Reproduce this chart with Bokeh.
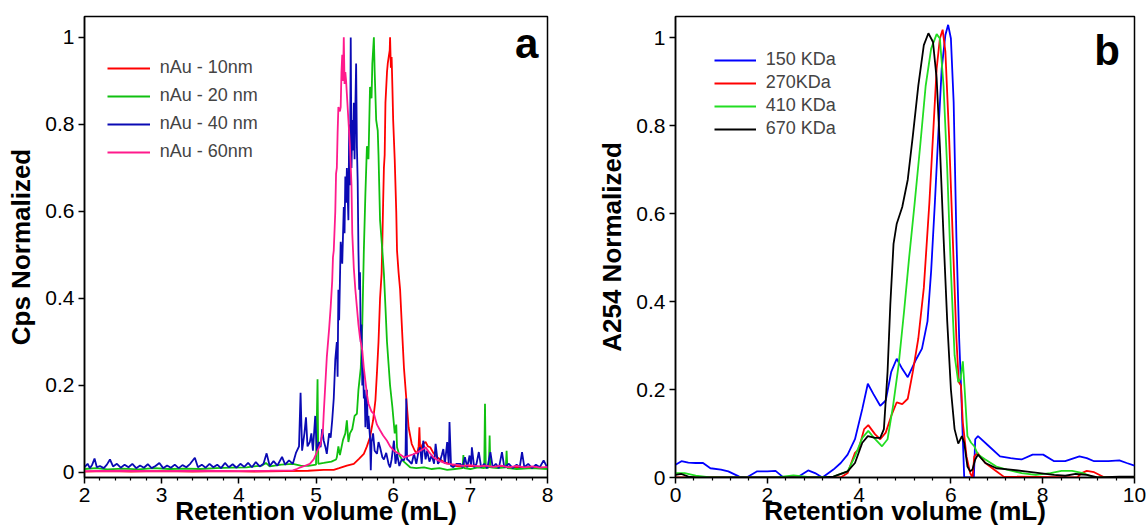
from bokeh.plotting import figure
from bokeh.layouts import row
from bokeh.models import (Range1d, FixedTicker, Legend, LegendItem, Label,
                          CustomJSTickFormatter)
from bokeh.embed import file_html
from bokeh.resources import INLINE

# ---------------- Panel a : ICP-MS (Cps normalized) ----------------
a_labels = ["nAu - 10nm", "nAu - 20 nm", "nAu - 40 nm", "nAu - 60nm"]

au10_x = [2.00, 2.30, 2.60, 3.00, 3.40, 3.80, 4.20, 4.60, 4.90, 5.10, 5.23, 5.30, 5.40, 5.49,
          5.56, 5.62, 5.66, 5.70, 5.74, 5.77, 5.79, 5.81, 5.83, 5.85, 5.86, 5.87, 5.88, 5.89,
          5.90, 5.92, 5.93, 5.955, 5.96, 5.97, 5.98, 5.99, 6.00, 6.02, 6.04, 6.05, 6.07, 6.09,
          6.12, 6.14, 6.17, 6.20, 6.24, 6.28, 6.31, 6.33, 6.34, 6.35, 6.38, 6.42, 6.45, 6.48,
          6.52, 6.57, 6.65, 6.78, 6.90, 7.00, 7.20, 7.40, 7.60, 7.80, 8.00]
au10_y = [0.002, 0.003, 0.002, 0.003, 0.002, 0.003, 0.002, 0.003, 0.004, 0.006, 0.006, 0.010,
          0.016, 0.020, 0.032, 0.043, 0.060, 0.081, 0.120, 0.166, 0.230, 0.300, 0.400, 0.457,
          0.530, 0.620, 0.700, 0.730, 0.850, 0.920, 0.940, 0.970, 1.000, 0.930, 0.955, 0.886,
          0.810, 0.720, 0.600, 0.510, 0.460, 0.420, 0.310, 0.240, 0.170, 0.104, 0.066, 0.050,
          0.043, 0.060, 0.104, 0.050, 0.065, 0.070, 0.060, 0.058, 0.045, 0.035, 0.025, 0.016,
          0.013, 0.015, 0.012, 0.014, 0.011, 0.013, 0.010]

au20_x = [2.00, 2.15, 2.30, 2.50, 2.70, 2.90, 3.10, 3.30, 3.50, 3.70, 3.90, 4.10, 4.30, 4.35,
          4.40, 4.55, 4.70, 4.80, 4.90, 5.00, 5.02, 5.03, 5.10, 5.20, 5.26, 5.27, 5.29, 5.31,
          5.35, 5.38, 5.40, 5.42, 5.44, 5.47, 5.50, 5.53, 5.55, 5.58, 5.60, 5.62, 5.64, 5.66,
          5.68, 5.70, 5.72, 5.73, 5.75, 5.76, 5.78, 5.80, 5.81, 5.83, 5.86, 5.88, 5.90, 5.92,
          5.94, 5.96, 5.99, 6.02, 6.04, 6.05, 6.08, 6.12, 6.17, 6.22, 6.30, 6.40, 6.50, 6.60,
          6.70, 6.80, 6.90, 6.91, 6.92, 7.00, 7.10, 7.18, 7.19, 7.20, 7.24, 7.25, 7.26, 7.35,
          7.46, 7.47, 7.48, 7.60, 7.80, 8.00]
au20_y = [0.008, 0.010, 0.007, 0.009, 0.007, 0.010, 0.008, 0.009, 0.008, 0.010, 0.011, 0.012,
          0.016, 0.022, 0.014, 0.018, 0.020, 0.016, 0.015, 0.018, 0.214, 0.020, 0.022, 0.025,
          0.030, 0.035, 0.060, 0.040, 0.075, 0.090, 0.120, 0.070, 0.090, 0.100, 0.130, 0.135,
          0.190, 0.240, 0.340, 0.510, 0.640, 0.750, 0.720, 0.886, 0.860, 0.940, 1.000, 0.924,
          0.810, 0.786, 0.730, 0.580, 0.510, 0.457, 0.380, 0.300, 0.250, 0.200, 0.150, 0.090,
          0.110, 0.058, 0.040, 0.028, 0.020, 0.012, 0.010, 0.012, 0.008, 0.010, 0.006, 0.008,
          0.010, 0.040, 0.010, 0.008, 0.012, 0.010, 0.158, 0.010, 0.012, 0.085, 0.012, 0.010,
          0.012, 0.050, 0.010, 0.008, 0.010, 0.008]

au40_x = [2.00, 2.04, 2.07, 2.10, 2.13, 2.16, 2.20, 2.25, 2.29, 2.33, 2.37, 2.42, 2.47, 2.52,
          2.57, 2.62, 2.67, 2.72, 2.77, 2.82, 2.87, 2.92, 2.97, 3.02, 3.07, 3.12, 3.17, 3.22,
          3.27, 3.32, 3.37, 3.43, 3.47, 3.52, 3.57, 3.62, 3.67, 3.72, 3.77, 3.82, 3.87, 3.92,
          3.97, 4.02, 4.07, 4.12, 4.17, 4.22, 4.27, 4.32, 4.36, 4.40, 4.45, 4.50, 4.56, 4.60,
          4.65, 4.70, 4.74, 4.78, 4.80, 4.82, 4.85, 4.87, 4.89, 4.92, 4.94, 4.96, 4.99, 5.01,
          5.04, 5.06, 5.08, 5.10, 5.12, 5.14, 5.17, 5.19, 5.21, 5.23, 5.25, 5.27, 5.28, 5.29,
          5.30, 5.32, 5.34, 5.36, 5.37, 5.38, 5.39, 5.40, 5.42, 5.43, 5.44, 5.45, 5.46, 5.47,
          5.48, 5.49, 5.50, 5.51, 5.52, 5.53, 5.54, 5.55, 5.56, 5.57, 5.58, 5.59, 5.60, 5.61,
          5.62, 5.63, 5.64, 5.66, 5.67, 5.68, 5.70, 5.71, 5.72, 5.74, 5.76, 5.79, 5.81, 5.83,
          5.86, 5.88, 5.91, 5.94, 5.96, 5.98, 6.01, 6.03, 6.05, 6.08, 6.11, 6.14, 6.16, 6.17,
          6.18, 6.20, 6.24, 6.27, 6.30, 6.33, 6.35, 6.37, 6.39, 6.42, 6.44, 6.47, 6.50, 6.53,
          6.55, 6.58, 6.61, 6.63, 6.65, 6.67, 6.70, 6.72, 6.73, 6.75, 6.78, 6.82, 6.87, 6.90,
          6.93, 6.96, 6.99, 7.01, 7.02, 7.05, 7.08, 7.11, 7.14, 7.18, 7.22, 7.26, 7.29, 7.33,
          7.37, 7.41, 7.44, 7.50, 7.55, 7.60, 7.64, 7.67, 7.70, 7.75, 7.80, 7.85, 7.90, 7.95,
          8.00]
au40_y = [0.012, 0.020, 0.010, 0.018, 0.032, 0.012, 0.015, 0.010, 0.018, 0.030, 0.014, 0.020,
          0.011, 0.018, 0.012, 0.020, 0.010, 0.016, 0.011, 0.019, 0.010, 0.015, 0.022, 0.010,
          0.016, 0.011, 0.018, 0.010, 0.017, 0.012, 0.020, 0.034, 0.012, 0.018, 0.011, 0.020,
          0.012, 0.018, 0.010, 0.022, 0.012, 0.019, 0.011, 0.020, 0.013, 0.022, 0.012, 0.024,
          0.014, 0.020, 0.044, 0.015, 0.026, 0.016, 0.036, 0.018, 0.028, 0.020, 0.045, 0.060,
          0.183, 0.050, 0.090, 0.127, 0.060, 0.070, 0.090, 0.050, 0.130, 0.050, 0.070, 0.058,
          0.100, 0.073, 0.060, 0.043, 0.090, 0.080, 0.120, 0.170, 0.260, 0.300, 0.220, 0.420,
          0.350, 0.530, 0.480, 0.610, 0.550, 0.680, 0.620, 0.700, 0.580, 0.800, 0.660, 1.000,
          0.700, 0.810, 0.740, 0.850, 0.720, 0.840, 0.940, 0.750, 0.670, 0.510, 0.420, 0.460,
          0.300, 0.340, 0.200, 0.240, 0.170, 0.190, 0.104, 0.190, 0.100, 0.130, 0.080, 0.005,
          0.070, 0.090, 0.050, 0.043, 0.070, 0.058, 0.035, 0.030, 0.045, 0.020, 0.012, 0.030,
          0.073, 0.020, 0.043, 0.015, 0.030, 0.028, 0.040, 0.170, 0.030, 0.028, 0.020, 0.043,
          0.020, 0.050, 0.058, 0.020, 0.073, 0.030, 0.050, 0.025, 0.040, 0.020, 0.066, 0.020,
          0.028, 0.040, 0.054, 0.020, 0.070, 0.020, 0.116, 0.015, 0.012, 0.020, 0.020, 0.012,
          0.035, 0.012, 0.039, 0.015, 0.058, 0.012, 0.020, 0.047, 0.012, 0.020, 0.010, 0.047,
          0.012, 0.020, 0.010, 0.047, 0.012, 0.020, 0.010, 0.018, 0.012, 0.047, 0.012, 0.020,
          0.010, 0.018, 0.012, 0.028, 0.010]

au60_x = [2.00, 2.50, 3.00, 3.50, 4.00, 4.40, 4.70, 4.75, 4.80, 4.85, 4.92, 4.97, 5.02, 5.06,
          5.09, 5.10, 5.12, 5.14, 5.17, 5.19, 5.21, 5.22, 5.23, 5.25, 5.26, 5.27, 5.28, 5.29,
          5.31, 5.32, 5.33, 5.34, 5.35, 5.36, 5.37, 5.38, 5.39, 5.40, 5.42, 5.44, 5.46, 5.47,
          5.48, 5.49, 5.51, 5.53, 5.55, 5.57, 5.60, 5.62, 5.64, 5.66, 5.68, 5.72, 5.75, 5.79,
          5.83, 5.87, 5.92, 5.96, 6.01, 6.06, 6.10, 6.14, 6.20, 6.26, 6.30, 6.35, 6.40, 6.42,
          6.46, 6.52, 6.58, 6.64, 6.70, 6.80, 6.90, 7.00, 7.10, 7.20, 7.30, 7.40, 7.50, 7.60,
          7.70, 7.80, 7.90, 8.00]
au60_y = [0.003, 0.004, 0.003, 0.004, 0.003, 0.004, 0.005, 0.008, 0.012, 0.015, 0.020, 0.030,
          0.050, 0.066, 0.097, 0.135, 0.200, 0.265, 0.330, 0.380, 0.440, 0.495, 0.510, 0.600,
          0.687, 0.700, 0.780, 0.840, 0.830, 0.840, 0.920, 0.960, 0.900, 1.000, 0.893, 0.920,
          0.900, 0.870, 0.810, 0.750, 0.660, 0.550, 0.510, 0.470, 0.420, 0.380, 0.340, 0.310,
          0.280, 0.240, 0.210, 0.180, 0.158, 0.140, 0.135, 0.110, 0.097, 0.085, 0.073, 0.060,
          0.050, 0.045, 0.040, 0.035, 0.038, 0.042, 0.045, 0.050, 0.055, 0.058, 0.048, 0.035,
          0.028, 0.024, 0.020, 0.018, 0.015, 0.017, 0.014, 0.016, 0.013, 0.016, 0.012, 0.015,
          0.012, 0.014, 0.011, 0.013]

a_xticks = [2, 3, 4, 5, 6, 7, 8]
a_xminor = [2.2, 2.4, 2.6, 2.8, 3.2, 3.4, 3.6, 3.8, 4.2, 4.4, 4.6, 4.8, 5.2, 5.4, 5.6, 5.8,
            6.2, 6.4, 6.6, 6.8, 7.2, 7.4, 7.6, 7.8]
a_yticks = [0, 0.2, 0.4, 0.6, 0.8, 1]

# ---------------- Panel b : UV (A254 normalized) ----------------
b_labels = ["150 KDa", "270KDa", "410 KDa", "670 KDa"]

kd150_x = [0.00, 0.13, 0.28, 0.44, 0.60, 0.76, 0.99, 1.15, 1.39, 1.55, 1.78, 2.00, 2.18, 2.33,
           2.65, 2.89, 3.04, 3.20, 3.44, 3.60, 3.75, 3.91, 4.07, 4.19, 4.31, 4.46, 4.58, 4.70,
           4.82, 4.94, 5.06, 5.25, 5.37, 5.49, 5.57, 5.65, 5.73, 5.80, 5.88, 5.94, 6.00, 6.06,
           6.12, 6.18, 6.22, 6.26, 6.29, 6.40, 6.50, 6.53, 6.59, 6.83, 7.07, 7.30, 7.54, 7.78,
           8.01, 8.25, 8.49, 8.80, 8.96, 9.12, 9.43, 9.67, 9.83, 10.00]
kd150_y = [0.029, 0.037, 0.034, 0.033, 0.033, 0.021, 0.018, 0.014, 0.002, 0.000, 0.014, 0.014,
           0.015, 0.002, 0.000, 0.016, 0.010, 0.000, 0.018, 0.033, 0.052, 0.087, 0.156, 0.213,
           0.190, 0.163, 0.175, 0.240, 0.270, 0.247, 0.228, 0.270, 0.293, 0.355, 0.470, 0.623,
           0.790, 0.930, 1.006, 1.029, 0.998, 0.853, 0.546, 0.316, 0.209, 0.087, 0.000, 0.000,
           0.000, 0.087, 0.094, 0.071, 0.048, 0.044, 0.041, 0.052, 0.052, 0.037, 0.037, 0.048,
           0.044, 0.037, 0.037, 0.039, 0.033, 0.027]

kd270_x = [0.00, 3.60, 3.75, 3.91, 3.99, 4.11, 4.20, 4.35, 4.46, 4.58, 4.70, 4.82, 4.94, 5.06,
           5.17, 5.29, 5.41, 5.53, 5.61, 5.69, 5.76, 5.82, 5.88, 5.96, 6.04, 6.12, 6.17, 6.22,
           6.26, 6.34, 6.42, 6.47, 6.51, 6.58, 6.75, 6.99, 7.15, 8.75, 8.85, 8.96, 9.12, 9.35,
           10.00]
kd270_y = [0.000, 0.000, 0.010, 0.056, 0.064, 0.110, 0.119, 0.098, 0.087, 0.102, 0.140, 0.171,
           0.167, 0.179, 0.240, 0.316, 0.431, 0.623, 0.776, 0.930, 0.998, 1.018, 0.968, 0.776,
           0.546, 0.316, 0.217, 0.209, 0.125, 0.048, 0.010, 0.000, 0.048, 0.056, 0.033, 0.014,
           0.002, 0.000, 0.010, 0.015, 0.012, 0.000, 0.000]

kd410_x = [0.00, 0.20, 0.44, 0.76, 2.20, 2.57, 2.97, 3.44, 3.75, 3.91, 4.07, 4.20, 4.35, 4.50,
           4.62, 4.74, 4.86, 4.98, 5.09, 5.21, 5.33, 5.45, 5.57, 5.69, 5.76, 5.84, 5.92, 6.00,
           6.08, 6.16, 6.21, 6.26, 6.30, 6.36, 6.44, 6.51, 6.59, 6.75, 6.99, 7.22, 7.54, 7.85,
           8.17, 8.41, 8.64, 8.88, 9.12, 10.00]
kd410_y = [0.010, 0.010, 0.004, 0.000, 0.000, 0.005, 0.000, 0.002, 0.014, 0.048, 0.090, 0.106,
           0.087, 0.071, 0.087, 0.163, 0.255, 0.378, 0.500, 0.623, 0.753, 0.890, 0.975, 1.008,
           0.998, 0.890, 0.700, 0.470, 0.278, 0.217, 0.225, 0.264, 0.200, 0.094, 0.079, 0.071,
           0.052, 0.041, 0.025, 0.018, 0.010, 0.006, 0.010, 0.015, 0.015, 0.010, 0.000, 0.000]

kd670_x = [0.00, 0.13, 0.28, 0.44, 3.20, 3.44, 3.75, 3.91, 4.07, 4.19, 4.35, 4.46, 4.54, 4.62,
           4.68, 4.75, 4.82, 4.94, 5.06, 5.17, 5.29, 5.41, 5.51, 5.61, 5.69, 5.76, 5.84, 5.92,
           6.00, 6.08, 6.16, 6.24, 6.29, 6.36, 6.42, 6.47, 6.53, 6.59, 6.75, 6.99, 7.30, 7.62,
           7.93, 8.25, 8.49, 8.72, 8.96, 9.20, 9.67, 10.00]
kd670_y = [0.006, 0.008, 0.002, 0.000, 0.000, 0.002, 0.014, 0.033, 0.079, 0.094, 0.090, 0.090,
           0.110, 0.240, 0.393, 0.531, 0.577, 0.615, 0.677, 0.776, 0.891, 0.983, 1.010, 0.990,
           0.906, 0.753, 0.546, 0.355, 0.200, 0.110, 0.077, 0.094, 0.079, 0.025, 0.014, 0.018,
           0.041, 0.052, 0.033, 0.021, 0.018, 0.014, 0.010, 0.006, 0.004, 0.008, 0.006, 0.000,
           0.002, 0.002]

b_xticks = [0, 2, 4, 6, 8, 10]
b_xminor = [0.4, 0.8, 1.2, 1.6, 2.4, 2.8, 3.2, 3.6, 4.4, 4.8, 5.2, 5.6, 6.4, 6.8, 7.2, 7.6,
            8.4, 8.8, 9.2, 9.6]
b_yticks = [0, 0.2, 0.4, 0.6, 0.8, 1]

FONT = "Liberation Sans"
HEIGHT = 531


def make_fig(width, xr, yr, bl, br, xticks, xminor, yticks, ylabel):
    p = figure(width=width, height=HEIGHT, x_range=Range1d(*xr), y_range=Range1d(*yr),
               output_backend="svg", toolbar_location=None,
               min_border_left=bl, min_border_right=br, min_border_top=16,
               min_border_bottom=54)
    p.xgrid.visible = False
    p.ygrid.visible = False
    p.outline_line_color = "black"
    p.outline_line_width = 1.5
    p.outline_line_alpha = 1
    p.background_fill_color = "white"
    p.border_fill_color = "white"
    p.xaxis.ticker = FixedTicker(ticks=xticks, minor_ticks=xminor)
    p.yaxis.ticker = FixedTicker(ticks=yticks, minor_ticks=[])
    p.yaxis.formatter = CustomJSTickFormatter(code="return String(Math.round(tick*10)/10);")
    for ax in (p.xaxis[0], p.yaxis[0]):
        ax.axis_line_width = 1.5
        ax.axis_line_color = "black"
        ax.major_tick_line_width = 1.5
        ax.major_tick_line_color = "black"
        ax.major_tick_out = 6
        ax.major_tick_in = 0
        ax.minor_tick_line_width = 1.2
        ax.minor_tick_line_color = "black"
        ax.minor_tick_out = 3
        ax.minor_tick_in = 0
        ax.major_label_text_font = FONT
        ax.major_label_text_font_size = "21px"
        ax.major_label_text_color = "black"
        ax.major_label_standoff = 4
        ax.axis_label_text_font = FONT
        ax.axis_label_text_font_size = "26px"
        ax.axis_label_text_font_style = "bold"
        ax.axis_label_text_color = "black"
    p.yaxis.axis_label = ylabel
    p.yaxis.axis_label_standoff = 6
    p.xaxis.axis_label = "Retention volume (mL)"
    p.xaxis.axis_label_standoff = -9
    return p


# Panel a
pa = make_fig(594, (2, 8), (-0.0115, 1.048), 84, 47, a_xticks, a_xminor, a_yticks,
              "Cps Normalized")
a_series = [(au10_x, au10_y, "#ff0000"), (au20_x, au20_y, "#10c010"),
            (au40_x, au40_y, "#0a0ab4"), (au60_x, au60_y, "#ff1a8c")]
a_items = []
for (xs, ys, c), lab in zip(a_series, a_labels):
    r = pa.line(xs, ys, line_color=c, line_width=1.8)
    a_items.append(LegendItem(label=lab, renderers=[r]))
leg_a = Legend(items=a_items, location=(22.7, 315), glyph_width=43, glyph_height=20,
               label_height=20, spacing=7, padding=0, margin=0, label_standoff=10,
               label_text_font=FONT, label_text_font_size="18px",
               border_line_alpha=0, background_fill_alpha=0)
pa.add_layout(leg_a)
pa.add_layout(Label(x=7.88, y=0.987, text="a", text_align="right",
                    text_baseline="alphabetic", text_font=FONT, text_font_size="42px",
                    text_font_style="bold", text_color="black"))

# Panel b
pb = make_fig(554, (0, 10), (0, 1.048), 77, 14, b_xticks, b_xminor, b_yticks,
              "A254 Normalized")
b_series = [(kd150_x, kd150_y, "#0000ff"), (kd270_x, kd270_y, "#ff0000"),
            (kd410_x, kd410_y, "#22dd22"), (kd670_x, kd670_y, "#000000")]
b_items = []
for (xs, ys, c), lab in zip(b_series, b_labels):
    r = pb.line(xs, ys, line_color=c, line_width=1.8)
    b_items.append(LegendItem(label=lab, renderers=[r]))
leg_b = Legend(items=b_items, location=(38.7, 338), glyph_width=42, glyph_height=20,
               label_height=20, spacing=2, padding=0, margin=0, label_standoff=10,
               label_text_font=FONT, label_text_font_size="18px",
               border_line_alpha=0, background_fill_alpha=0)
pb.add_layout(leg_b)
pb.add_layout(Label(x=9.68, y=0.971, text="b", text_align="right",
                    text_baseline="alphabetic", text_font=FONT, text_font_size="42px",
                    text_font_style="bold", text_color="black"))

layout = row(pa, pb)
open("out.html", "w").write(file_html(layout, INLINE))
